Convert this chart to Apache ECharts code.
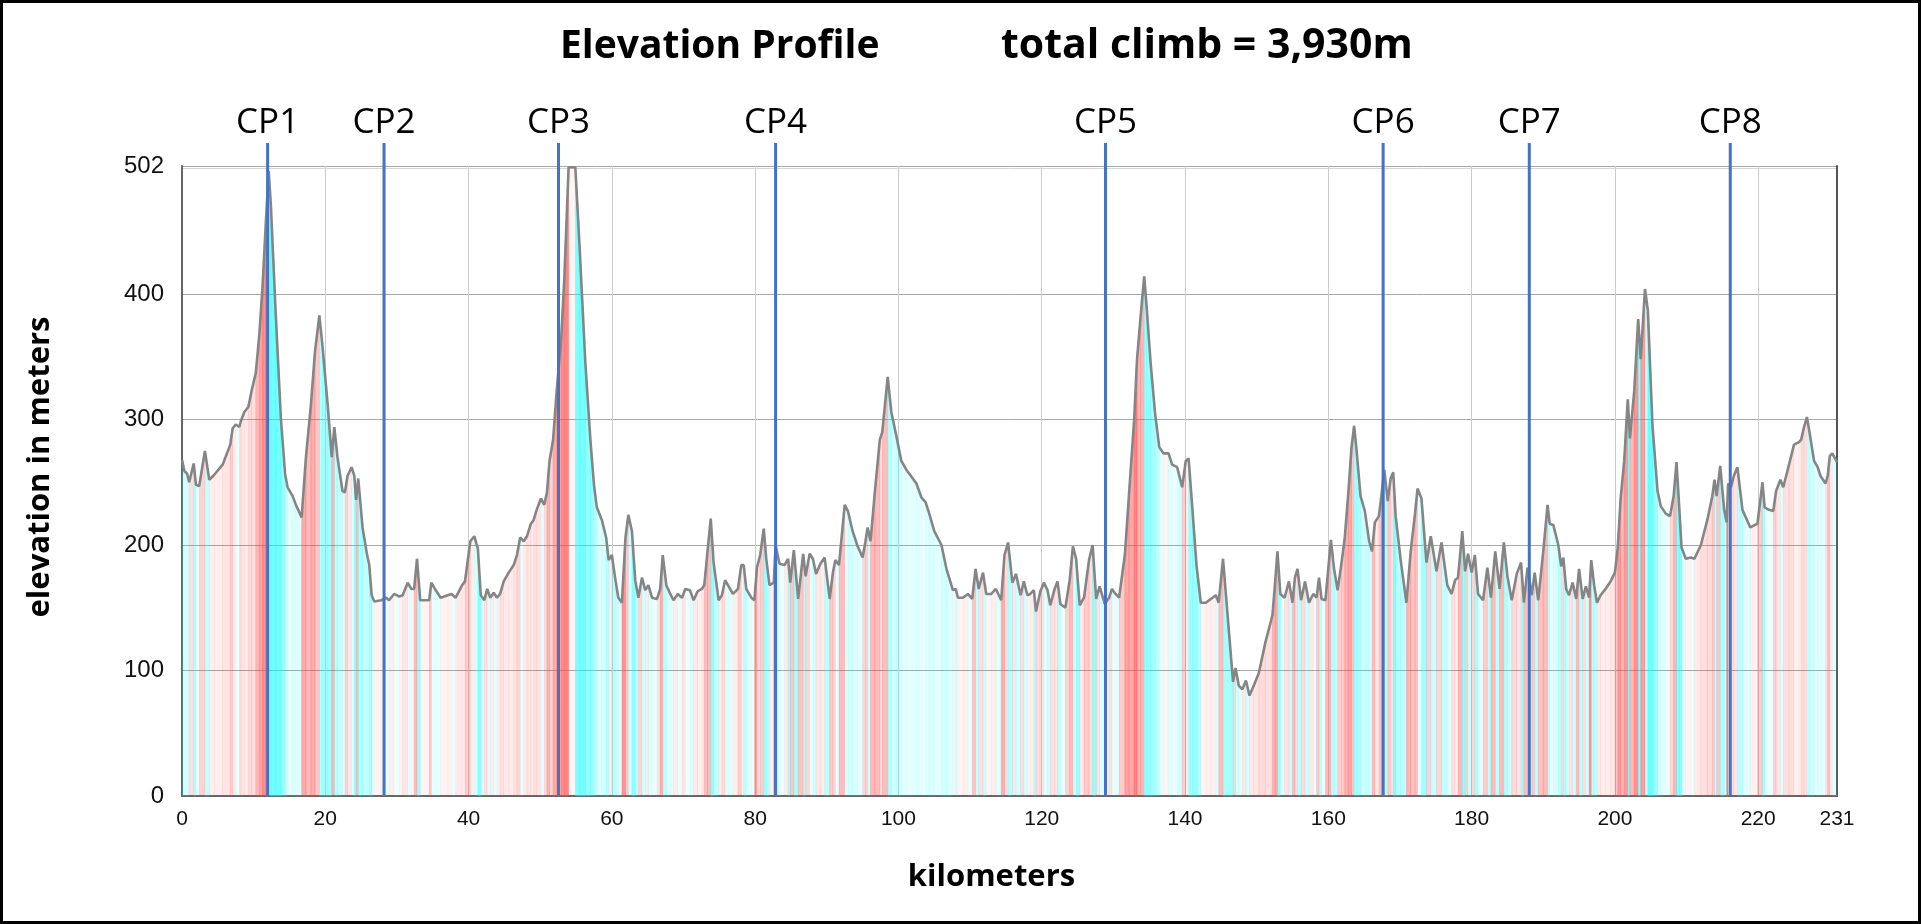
<!DOCTYPE html>
<html><head><meta charset="utf-8">
<script src="https://cdn.jsdelivr.net/npm/echarts@6/dist/echarts.min.js"></script>
<style>html,body{margin:0;padding:0;background:#fff;overflow:hidden}#c{width:1921px;height:924px}</style>
</head><body><div id="c"></div>
<script>
// ---- data ----
const kmPts = [0,0.33,0.7,1.0,1.63,1.95,2.4,3.2,3.8,4.5,5.67,6.74,7.07,7.5,8.0,8.23,8.7,9.26,9.72,10.3,10.8,11.25,11.7,12.1,12.4,13.1,13.8,14.4,14.74,15.44,15.9,16.7,17.3,18.0,18.56,19.17,19.6,20.33,20.9,21.26,21.7,22.4,22.74,23.1,23.67,24.05,24.3,24.6,25.2,25.8,26.14,26.47,26.84,27.8,28.5,28.9,29.6,30.3,30.8,31.5,32.0,32.4,32.8,33.25,34.5,34.8,35.3,36.1,37.1,37.6,38.2,
39.1,39.5,40.24,40.8,41.3,41.7,42.2,42.6,43.03,43.5,43.96,44.4,44.9,45.6,46.3,46.75,47.2,47.7,48.15,48.7,49.08,49.5,50.1,50.56,50.94,51.3,51.8,52.3,52.9,53.36,53.96,54.9,55.5,56.3,57.0,57.5,57.9,58.6,59.2,59.55,60.0,60.5,60.9,61.4,61.9,62.3,62.8,63.26,63.7,64.2,64.66,65.1,65.6,66.3,66.75,67.1,67.6,68.15,68.6,69.2,69.8,70.24,70.9,71.4,71.96,72.56,72.9,73.35,73.8,74.2,74.9,75.36,75.8,76.3,
76.9,77.6,78.06,78.4,78.76,79.46,79.9,80.25,80.7,81.2,81.55,82.0,82.6,82.85,83.4,84.1,84.6,84.9,85.4,86.0,86.7,87.04,87.6,88.06,88.5,89.1,89.7,90.4,90.85,91.2,91.7,92.5,92.95,93.6,94.3,95.0,95.4,95.7,96.1,96.7,97.4,97.74,98.5,99.0,99.7,100.4,101.1,102.0,102.5,103.2,103.8,104.3,105.0,106.0,106.7,107.6,108.0,108.3,109.0,109.7,110.3,110.76,111.2,111.8,112.25,112.95,113.6,114.34,114.8,115.3,
115.9,116.4,117.05,117.5,118.0,118.4,118.9,119.2,119.8,120.3,120.8,121.2,121.8,122.2,122.6,123.3,123.9,124.35,124.8,125.3,125.9,126.6,127.1,127.6,128.07,128.8,129.4,129.8,130.3,130.8,131.6,132.2,132.9,133.3,133.8,134.3,134.6,135.2,135.8,136.4,137.0,137.7,138.2,138.9,139.6,140.1,140.5,141.0,141.6,142.2,142.9,143.6,144.3,144.7,145.3,146.7,147.05,147.5,148.0,148.5,149.0,149.6,150.3,151.2,152.2,152.6,152.9,153.3,153.9,
154.5,155.0,155.34,155.7,156.2,156.75,157.3,157.9,158.36,158.7,159.05,159.6,160.36,160.8,161.3,161.85,162.3,162.8,163.24,163.6,163.9,164.5,165.1,165.7,166.1,166.5,167.06,167.4,167.8,168.3,168.7,169.06,169.4,170.1,170.9,171.5,172.1,172.45,173.0,173.7,174.3,175.1,175.8,176.6,177.2,177.7,178.1,178.7,179.1,179.5,180.0,180.45,180.9,181.6,182.2,182.7,183.3,183.9,184.5,185.0,185.6,186.3,186.9,187.3,187.8,188.4,188.8,189.3,190.0,190.6,190.9,191.4,192.1,
192.5,192.8,193.2,193.6,194.1,194.6,195.0,195.5,195.95,196.4,196.7,197.1,197.5,198.0,198.7,199.4,200.0,200.4,200.8,201.3,201.8,202.1,202.7,203.25,203.6,204.2,204.6,205.25,205.95,206.4,207.1,207.7,208.2,208.6,209.0,209.3,209.9,210.6,211.1,212.0,212.9,213.6,213.9,214.2,214.7,215.25,215.6,215.8,216.2,216.6,217.1,217.8,218.9,219.9,220.6,220.9,221.5,222.1,222.5,223.1,223.5,224.3,225.0,225.7,226.0,226.4,226.8,227.1,227.8,228.3,228.7,229.4,229.7,230.0,230.35,231.0];

const elevPts = [268,259,257,250,265,248,247,275,252,256,264,280,293,296,294,299,306,310,323,337,368,407,457,498,471,382,301,256,246,239,232,222,270,312,354,383,359,312,270,294,270,243,242,255,262,255,236,253,214,193,184,160,155,156,158,156,161,159,160,170,165,165,189,156,156,170,165,158,160,161,158,
168,171,203,207,197,160,156,165,158,162,158,161,171,178,184,192,206,203,207,217,220,228,237,232,242,267,284,323,362,412,501,501,437,345,284,248,230,220,206,188,192,172,158,154,206,224,211,172,158,174,164,168,158,157,165,192,168,161,156,161,158,165,164,156,163,165,168,195,221,186,156,160,172,167,
161,165,184,184,165,158,156,182,192,213,189,168,170,200,185,184,189,170,196,157,193,175,193,189,177,185,190,157,178,188,184,232,227,211,199,190,203,214,203,242,284,290,334,306,287,267,260,253,249,238,234,225,211,200,181,164,165,158,158,161,157,181,165,178,161,161,165,156,192,202,
170,177,160,171,160,161,164,147,163,170,164,152,165,171,153,150,172,199,189,152,158,188,200,157,167,153,158,165,161,158,192,242,300,348,382,414,393,345,306,278,273,273,264,262,246,267,269,231,184,154,154,157,160,154,189,91,102,88,85,92,80,88,98,122,144,172,195,161,158,
171,154,174,181,156,171,154,161,158,174,157,156,204,181,164,186,206,242,278,295,278,239,227,203,195,218,223,239,260,235,253,258,223,188,154,195,225,245,237,186,207,179,202,168,161,172,174,211,179,193,178,192,161,156,182,158,195,165,202,175,156,177,186,154,182,160,178,156,195,232,217,216,200,
183,190,165,160,170,157,181,157,167,158,188,168,154,160,165,171,178,198,237,267,316,285,323,380,348,404,387,295,243,231,225,223,239,266,228,198,189,190,189,200,220,239,252,239,263,228,218,249,246,255,262,228,214,217,250,230,228,227,243,252,246,264,280,282,284,294,302,292,267,262,255,249,255,271,273,266];

const cpNames = ['CP1','CP2','CP3','CP4','CP5','CP6','CP7','CP8'];
const cpKm = [11.95,28.2,52.55,82.85,128.9,167.65,188.05,216.1];

const xMax = 231, xStep = 20;
const yMax = 502, yStep = 100;
const titleMain = 'Elevation Profile';
const titleClimb = 'total climb = 3,930m';
const xName = 'kilometers';
const yName = 'elevation in meters';

// ---- chart ----
function stripeColor(g) {
  const t = Math.min(Math.abs(g) / 0.12, 1);
  if (g >= 0) return 'rgba(255,70,70,' + (0.06 + 0.6 * t).toFixed(3) + ')';
  return 'rgba(0,255,255,' + (0.06 + 0.5 * t).toFixed(3) + ')';
}
const segData = [];
for (let i = 0; i < kmPts.length - 1; i++) {
  segData.push([kmPts[i], kmPts[i + 1], elevPts[i], elevPts[i + 1]]);
}
const lineData = kmPts.map((k, i) => [k, elevPts[i]]);

const chart = echarts.init(document.getElementById('c'), null, {renderer: 'canvas'});
const ySplitColors = ['#a8a8a8','#a8a8a8','#a8a8a8','#a8a8a8','#a8a8a8','#d6d6d6'];
chart.setOption({
  animation: false,
  backgroundColor: '#fff',
  title: [
    {text: titleMain, left: 560, top: 27, padding: 0, textStyle: {fontFamily: 'Open Sans', fontWeight: 'bold', fontSize: 39, color: '#000'}},
    {text: titleClimb, left: 1001, top: 26, padding: 0, textStyle: {fontFamily: 'Open Sans', fontWeight: 'bold', fontSize: 41, color: '#000'}}
  ],
  graphic: [{type: 'rect', shape: {x: 1.5, y: 1.5, width: 1918, height: 921}, style: {fill: null, stroke: '#000', lineWidth: 3}, z: 100}],
  grid: {left: 182, right: 84, top: 166, bottom: 128, show: false},
  xAxis: {
    type: 'value', min: 0, max: xMax, interval: xStep,
    axisLine: {show: true, lineStyle: {color: '#666', width: 2}},
    axisTick: {show: false},
    axisLabel: {fontSize: 21, color: '#111', fontFamily: 'Liberation Sans', margin: 13, showMaxLabel: true, showMinLabel: true},
    splitLine: {show: true, lineStyle: {color: '#cccccc', width: 1}},
    name: xName, nameLocation: 'middle', nameGap: 66,
    nameTextStyle: {fontFamily: 'Open Sans', fontWeight: 'bold', fontSize: 31, color: '#000', padding: [0, 36, 0, 0]}
  },
  yAxis: [{
    type: 'value', min: 0, max: yMax, interval: yStep,
    axisLine: {show: true, lineStyle: {color: '#666', width: 2}},
    axisTick: {show: false},
    axisLabel: {fontSize: 24, color: '#111', fontFamily: 'Liberation Sans', margin: 18, showMaxLabel: true},
    splitLine: {show: true, lineStyle: {color: ySplitColors, width: 1}},
    name: yName, nameLocation: 'middle', nameGap: 126, nameRotate: 90,
    nameTextStyle: {fontFamily: 'Open Sans', fontWeight: 'bold', fontSize: 31, color: '#000', padding: [0, 0, 0, 28]}
  }, {
    type: 'value', min: 0, max: yMax, position: 'right',
    axisLine: {show: true, lineStyle: {color: '#555', width: 2}},
    axisTick: {show: false}, axisLabel: {show: false}, splitLine: {show: false}
  }],
  series: [
    {
      type: 'custom', data: segData, encode: {x: [0, 1], y: [2, 3]}, z: 1, silent: true,
      renderItem: function (params, api) {
        const x0 = api.value(0), x1 = api.value(1), y0 = api.value(2), y1 = api.value(3);
        const a = api.coord([x0, 0]), b = api.coord([x0, y0]), c = api.coord([x1, y1]), d = api.coord([x1, 0]);
        const g = (y1 - y0) / ((x1 - x0) * 1000);
        const col = stripeColor(g);
        return {type: 'polygon', shape: {points: [a, b, c, d]}, style: {fill: col, stroke: col, lineWidth: 0.4}};
      }
    },
    {
      type: 'line', data: lineData, showSymbol: false, symbol: 'none', z: 3, silent: true,
      lineStyle: {color: '#858585', width: 2.6}
    },
    {
      type: 'custom', data: cpKm.map(k => [k, yMax]), encode: {x: 0, y: 1}, z: 6, clip: false, silent: true,
      renderItem: function (params, api) {
        const k = api.value(0);
        const bottom = api.coord([k, 0]);
        const top = api.coord([k, yMax]);
        return {type: 'group', children: [
          {type: 'line', shape: {x1: bottom[0], y1: bottom[1], x2: bottom[0], y2: top[1] - 23}, style: {stroke: '#4472C4', lineWidth: 3}},
          {type: 'text', x: bottom[0], y: top[1] - 43, style: {text: cpNames[params.dataIndex], align: 'center', verticalAlign: 'middle', fontSize: 35, fontFamily: 'Open Sans', fill: '#000'}}
        ]};
      }
    }
  ]
});
</script></body></html>
